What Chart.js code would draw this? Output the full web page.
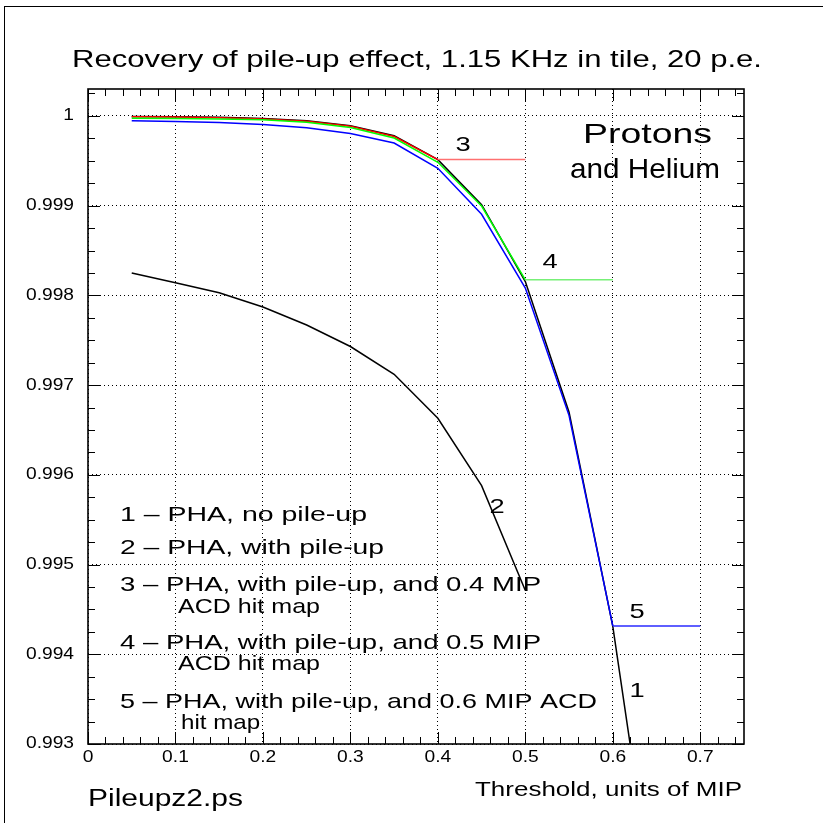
<!DOCTYPE html>
<html>
<head>
<meta charset="utf-8">
<script src="https://cdn.jsdelivr.net/npm/chart.js@4.4.0/dist/chart.umd.min.js"></script>
<style>
  html, body { margin: 0; padding: 0; background: #fff; }
  #wrap { position: relative; width: 823px; height: 823px; }
</style>
</head>
<body>
<div id="wrap"><canvas id="chart" width="823" height="823"></canvas></div>
<script>
// Threshold values (units of MIP)
const thresholds = [0.05, 0.1, 0.15, 0.2, 0.25, 0.3, 0.35, 0.4, 0.45, 0.5, 0.55, 0.6, 0.65, 0.7];

// 1 - PHA, no pile-up
const noPileUp = [0.999993, 0.999991, 0.999985, 0.99997, 0.999945, 0.99989, 0.99978, 0.999513, 0.99901, 0.998154, 0.996697, 0.99431, 0.9910];
// 2 - PHA, with pile-up
const withPileUp = [0.99825, 0.99814, 0.99803, 0.99787, 0.99767, 0.99743, 0.99712, 0.99663, 0.99588, 0.99471];
// 3 - with pile-up, 0.4 MIP ACD hit map
const hitMap04 = [0.99999, 0.999988, 0.99998, 0.999966, 0.99994, 0.999884, 0.99977, 0.999513, 0.999513, 0.999513];
// 4 - with pile-up, 0.5 MIP ACD hit map
const hitMap05 = [0.999975, 0.99997, 0.999967, 0.999956, 0.99993, 0.99987, 0.999753, 0.999483, 0.998996, 0.998173, 0.998173, 0.998173];
// 5 - with pile-up, 0.6 MIP ACD hit map
const hitMap06 = [0.999945, 0.999937, 0.999926, 0.999904, 0.999867, 0.999804, 0.999698, 0.999416, 0.998904, 0.998081, 0.99666, 0.994316, 0.994316, 0.994316];

const yMin = 0.993;
const yMax = 1.0003;
const xMax = 0.75;

function points(values) {
  return values.map((v, i) => ({ x: thresholds[i], y: v }));
}

function series(values, color, flatColor) {
  return {
    data: points(values),
    borderColor: color,
    borderWidth: 1.5,
    pointRadius: 0,
    fill: false,
    tension: 0,
    segment: {
      borderColor: ctx => ctx.p0.parsed.y === ctx.p1.parsed.y ? flatColor : color
    }
  };
}

function fmt(v) {
  return String(parseFloat(Number(v).toFixed(4)));
}

const FONT = '"Liberation Sans", Arial, sans-serif';
const STRETCH = 1.3; // the PAW font is much wider than Helvetica

// frame, inside ticks and text, in the PAW style
const pawPlugin = {
  id: 'paw',
  beforeDraw(chart) {
    const ctx = chart.ctx;
    ctx.save();
    ctx.fillStyle = '#fff';
    ctx.fillRect(0, 0, chart.width, chart.height);
    ctx.strokeStyle = '#000';
    ctx.lineWidth = 1;
    ctx.strokeRect(4.5, 6.5, 830, 830);
    ctx.restore();
  },
  afterDraw(chart) {
    const ctx = chart.ctx;
    const a = chart.chartArea;
    const xs = chart.scales.x, ys = chart.scales.y;
    ctx.save();
    ctx.strokeStyle = '#000';
    ctx.lineWidth = 1.6;
    ctx.strokeRect(a.left, a.top, a.right - a.left, a.bottom - a.top);

    ctx.lineWidth = 1;
    ctx.beginPath();
    for (let i = 0; i <= 37; i++) {
      const px = Math.round(xs.getPixelForValue(i * 0.02)) + 0.5;
      const len = i % 5 === 0 ? 12 : 7;
      ctx.moveTo(px, a.bottom); ctx.lineTo(px, a.bottom - len);
      ctx.moveTo(px, a.top); ctx.lineTo(px, a.top + len);
    }
    for (let i = 0; i <= 29; i++) {
      const py = Math.round(ys.getPixelForValue(yMin + i * 0.00025)) + 0.5;
      const len = i % 4 === 0 ? 12 : 7;
      ctx.moveTo(a.left, py); ctx.lineTo(a.left + len, py);
      ctx.moveTo(a.right, py); ctx.lineTo(a.right - len, py);
    }
    ctx.stroke();

    ctx.fillStyle = '#000';
    ctx.textBaseline = 'middle';
    // stretched text: either by a fixed factor, or fitted between left and right
    const txt = (s, x, y, size, align, k) => {
      const sx = k || STRETCH;
      ctx.font = size + 'px ' + FONT;
      const w = ctx.measureText(s).width * sx;
      const left = align === 'center' ? x - w / 2 : align === 'right' ? x - w : x;
      ctx.save(); ctx.translate(left, y); ctx.scale(sx, 1);
      ctx.textAlign = 'left'; ctx.fillText(s, 0, 0); ctx.restore();
    };
    const box = (s, left, right, y, size) => {
      ctx.font = size + 'px ' + FONT;
      const sx = (right - left) / ctx.measureText(s).width;
      ctx.save(); ctx.translate(left, y); ctx.scale(sx, 1);
      ctx.textAlign = 'left'; ctx.fillText(s, 0, 0); ctx.restore();
    };

    // tick labels from the scales' own ticks
    xs.ticks.forEach(t => txt(fmt(t.value), xs.getPixelForValue(t.value), 758, 16, 'center', 1.2));
    ys.ticks.forEach(t => txt(fmt(t.value), 74, ys.getPixelForValue(t.value), 16, 'right', 1.2));

    box('Recovery of pile-up effect, 1.15 KHz in tile, 20 p.e.', 72, 762, 60, 24);
    box('Protons', 583, 712, 135, 28);
    box('and Helium', 570, 720, 170, 28);
    txt('3', 463, 145, 21, 'center');
    txt('4', 550, 262, 21, 'center');
    txt('5', 637, 612, 21, 'center');
    txt('1', 637, 691, 21, 'center');
    txt('2', 497, 507, 21, 'center');
    box('1 \u2013 PHA, no pile-up', 120, 367, 515, 21);
    box('2 \u2013 PHA, with pile-up', 120, 384, 548, 21);
    box('3 \u2013 PHA, with pile-up, and 0.4 MIP', 120, 541, 585, 21);
    box('ACD hit map', 178, 320, 607, 21);
    box('4 \u2013 PHA, with pile-up, and 0.5 MIP', 120, 541, 643, 21);
    box('ACD hit map', 178, 320, 664, 21);
    box('5 \u2013 PHA, with pile-up, and 0.6 MIP ACD', 120, 597, 702, 21);
    txt('hit map', 181, 723, 21, 'left', 1.15);
    box('Threshold, units of MIP', 475, 742, 790, 21);
    box('Pileupz2.ps', 88, 243, 800, 23);
    ctx.restore();
  }
};

function createChart() {
  const ctx = document.getElementById('chart').getContext('2d');
  new Chart(ctx, {
    type: 'line',
    data: {
      datasets: [
        series(withPileUp, '#000000', '#000000'),
        series(hitMap06, '#0000ff', '#2a2aff'),
        series(hitMap05, '#00ff00', '#77f077'),
        series(hitMap04, '#ff0000', '#ff7070'),
        series(noPileUp, '#000000', '#000000')
      ]
    },
    options: {
      responsive: false,
      animation: false,
      layout: { padding: { top: 89, right: 79, left: 0, bottom: 0 } },
      plugins: { legend: { display: false }, tooltip: { enabled: false } },
      scales: {
        x: {
          type: 'linear',
          min: 0,
          max: xMax,
          afterFit: s => { s.height = 79; },
          ticks: { display: false, stepSize: 0.1, includeBounds: false, autoSkip: false },
          grid: { color: '#000', lineWidth: 1, drawTicks: false },
          border: { display: false, dash: [1, 3] }
        },
        y: {
          type: 'linear',
          min: yMin,
          max: yMax,
          afterFit: s => { s.width = 88; },
          ticks: { display: false, stepSize: 0.001, includeBounds: false, autoSkip: false },
          grid: { color: '#000', lineWidth: 1, drawTicks: false },
          border: { display: false, dash: [1, 3] }
        }
      }
    },
    plugins: [pawPlugin]
  });
}

document.addEventListener('DOMContentLoaded', createChart);
</script>
</body>
</html>
